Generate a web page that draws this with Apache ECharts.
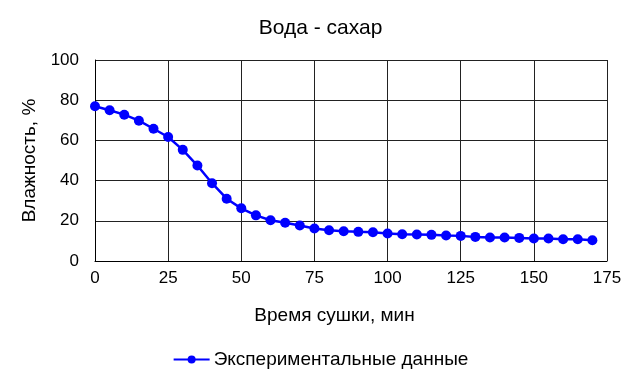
<!DOCTYPE html>
<html>
<head>
<meta charset="utf-8">
<script src="https://cdn.jsdelivr.net/npm/echarts@6/dist/echarts.min.js"></script>
<style>html,body{margin:0;padding:0;background:#fff}#c{width:641px;height:384px}</style>
</head>
<body>
<div id="c"></div>
<script>
const titleText = 'Вода - сахар';
const xName = 'Время сушки, мин';
const yName = 'Влажность, %';
const seriesName = 'Экспериментальные данные';
const times = [0,5,10,15,20,25,30,35,40,45,50,55,60,65,70,75,80,85,90,95,100,105,110,115,120,125,130,135,140,145,150,155,160,165,170];
const moisture = [77,75,72.8,69.8,65.8,61.7,55.3,47.5,38.7,31,26.2,22.7,20.3,19,17.7,16.2,15.3,14.8,14.5,14.3,13.7,13.3,13.2,13.0,12.7,12.5,12.0,11.7,11.7,11.5,11.2,11.2,10.8,10.8,10.3];

const font = 'Liberation Sans, Arial, sans-serif';
const chart = echarts.init(document.getElementById('c'));
chart.setOption({
  animation: false,
  backgroundColor: '#fff',
  title: {text: titleText, left: 'center', top: 13, textStyle: {fontFamily: font, fontSize: 21, fontWeight: 'normal', color: '#000'}},
  legend: {top: 345, left: 'center', itemWidth: 36, itemHeight: 10, itemGap: 4,
    textStyle: {fontFamily: font, fontSize: 19, color: '#000', padding: [0, 0, 0, -1]}, data: [seriesName]},
  grid: {left: 95, right: 34, top: 60, bottom: 123},
  xAxis: {type: 'value', min: 0, max: 175, interval: 25,
    name: xName, nameLocation: 'middle', nameGap: 45,
    nameTextStyle: {fontFamily: font, fontSize: 19, color: '#000', padding: [0, 33, 0, 0]},
    axisLine: {lineStyle: {color: '#000', width: 1}}, axisTick: {show: false},
    axisLabel: {fontFamily: font, fontSize: 17, color: '#000', margin: 9},
    splitLine: {show: true, lineStyle: {color: '#222', width: 1}}},
  yAxis: {type: 'value', min: 0, max: 100, interval: 20,
    name: yName, nameLocation: 'middle', nameGap: 52,
    nameTextStyle: {fontFamily: font, fontSize: 19, color: '#000'},
    axisLine: {show: true, lineStyle: {color: '#000', width: 1}}, axisTick: {show: false},
    axisLabel: {fontFamily: font, fontSize: 17, color: '#000', margin: 16},
    splitLine: {show: true, lineStyle: {color: '#222', width: 1}}},
  series: [{name: seriesName, type: 'line', data: times.map((t, i) => [t, moisture[i]]),
    symbol: 'circle', symbolSize: 10, color: '#0000ff',
    lineStyle: {color: '#0000ff', width: 2.5}, itemStyle: {color: '#0000ff'}}]
});
</script>
</body>
</html>
